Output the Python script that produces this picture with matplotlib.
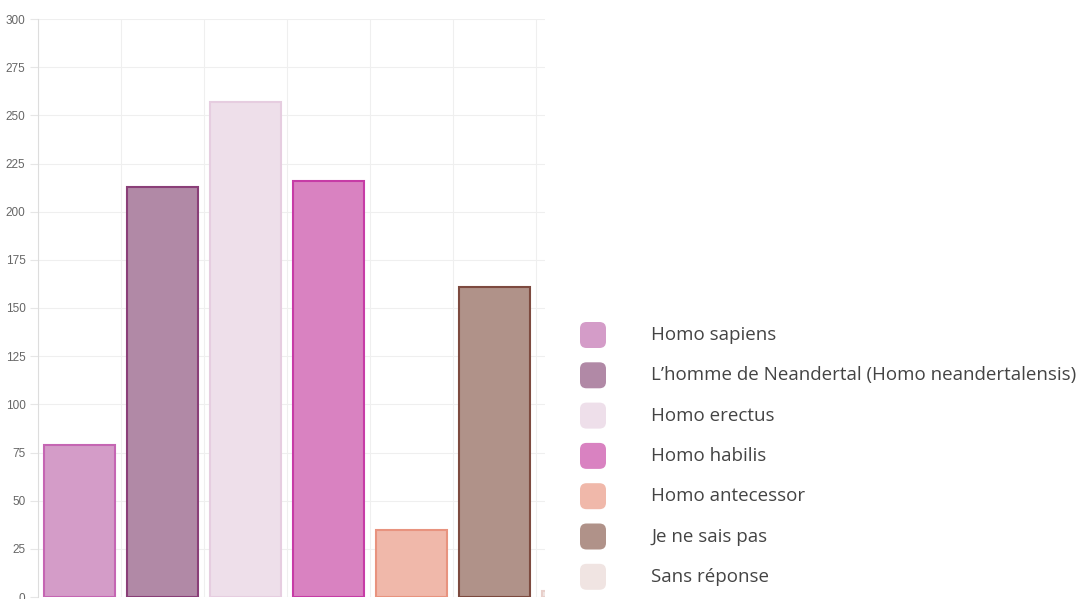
import matplotlib.pyplot as plt
from matplotlib.patches import FancyBboxPatch

categories = ["Homo sapiens", "L\u2019homme de Neandertal (Homo neandertalensis)",
              "Homo erectus", "Homo habilis", "Homo antecessor",
              "Je ne sais pas", "Sans r\u00e9ponse"]
values = [79, 213, 257, 216, 35, 161, 3]
fill_colors = ["#d49cc8", "#b189a6", "#eedfea", "#d982c1", "#f0b8aa", "#b09289", "#f0e4e2"]
edge_colors = ["#c566b3", "#8a3f78", "#e6cde0", "#c63ca6", "#e8937f", "#7d4a3f", "#e8cfca"]
y_ticks = list(range(0, 301, 25))

W, H = 1082, 599
fig = plt.figure(figsize=(W / 100, H / 100), dpi=100)

# plot area in pixels: left 38, right 545, top 19, bottom 597
x0, x1, ytop, ybot = 38, 545, 19, 597
ax = fig.add_axes([x0 / W, 1 - ybot / H, (x1 - x0) / W, (ybot - ytop) / H])

pos = list(range(len(categories)))
ax.bar(pos, values, width=0.86, color=fill_colors, edgecolor=edge_colors,
       linewidth=1.5, zorder=3)

step = 83
ax.set_xlim(-0.5, (x1 - x0) / step - 0.5)
ax.set_ylim(0, 300)
ax.set_yticks(y_ticks)
ax.set_yticklabels([str(t) for t in y_ticks], fontsize=8.5, color="#666666",
                   family="Liberation Sans")
ax.set_xticks([p + 0.5 for p in range(-1, 6)])
ax.tick_params(axis="x", length=0, labelbottom=False)
ax.tick_params(axis="y", length=6, color="#e6e6e6", width=0.8, pad=3)
ax.grid(True, color="#efefef", linewidth=0.8, zorder=0)
for side in ["top", "right", "bottom"]:
    ax.spines[side].set_visible(False)
ax.spines["left"].set_color("#dddddd")
ax.spines["left"].set_linewidth(0.8)

# legend drawn by hand to the right of the plot
leg_y0, leg_dy = 335, 40.3
for i, (label, col) in enumerate(zip(categories, fill_colors)):
    yc = leg_y0 + i * leg_dy
    sw = 26
    patch = FancyBboxPatch((580 / W, 1 - (yc + sw / 2) / H), sw / W, sw / H,
                           boxstyle="round,pad=0,rounding_size=0.006",
                           transform=fig.transFigure, facecolor=col,
                           edgecolor="none", mutation_aspect=W / H)
    fig.patches.append(patch)
    fig.text(651 / W, 1 - yc / H, label, fontsize=13.5, color="#444444",
             family="Open Sans", va="center", ha="left")

fig.savefig("out.png", dpi=100)
